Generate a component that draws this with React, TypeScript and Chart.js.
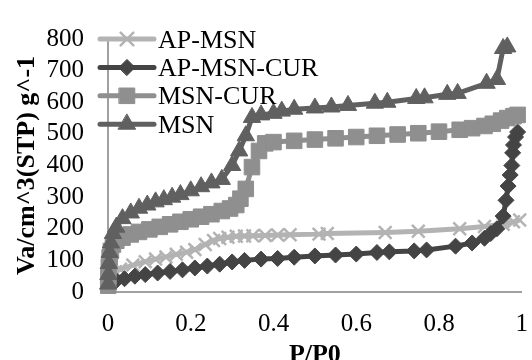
import React, { useEffect, useRef } from "react";
import { Chart, registerables } from "chart.js";
import { drawPoint } from "chart.js/helpers";

Chart.register(...registerables);

const seriesNames = ["AP-MSN", "AP-MSN-CUR", "MSN-CUR", "MSN"];

const apMsnP = [0.003, 0.008, 0.018, 0.03, 0.06, 0.09, 0.115, 0.14, 0.165, 0.19, 0.21, 0.235, 0.255, 0.27, 0.29, 0.31, 0.33, 0.35, 0.38, 0.41, 0.44, 0.51, 0.53, 0.67, 0.75, 0.85, 0.91, 0.955, 0.98, 0.995];
const apMsnV = [42, 56, 64, 72, 85, 96, 104, 111, 119, 126, 134, 150, 163, 169, 173, 176, 177, 178, 179, 180, 181, 183, 185, 188, 192, 200, 207, 214, 222, 228];

const apMsnCurP = [0.005, 0.02, 0.04, 0.065, 0.09, 0.12, 0.15, 0.18, 0.21, 0.24, 0.27, 0.3, 0.33, 0.37, 0.41, 0.45, 0.5, 0.55, 0.6, 0.65, 0.68, 0.74, 0.77, 0.84, 0.88, 0.91, 0.925, 0.94, 0.955, 0.962, 0.967, 0.972, 0.976, 0.978, 0.98, 0.985, 0.99];
const apMsnCurV = [28, 36, 42, 50, 55, 60, 65, 70, 76, 82, 88, 95, 100, 104, 106, 110, 114, 117, 120, 125, 127, 130, 133, 145, 155, 170, 185, 200, 240, 290, 335, 370, 400, 440, 465, 490, 506];

const msnCurP = [0.0005, 0.001, 0.002, 0.004, 0.007, 0.012, 0.02, 0.035, 0.055, 0.075, 0.1, 0.125, 0.15, 0.175, 0.2, 0.225, 0.25, 0.275, 0.295, 0.31, 0.32, 0.333, 0.348, 0.365, 0.38, 0.4, 0.45, 0.5, 0.55, 0.6, 0.65, 0.7, 0.75, 0.8, 0.85, 0.88, 0.91, 0.93, 0.95, 0.965, 0.98, 0.99];
const msnCurV = [20, 50, 80, 110, 130, 150, 162, 172, 182, 190, 198, 206, 214, 222, 230, 238, 246, 256, 264, 275, 295, 326, 395, 446, 470, 474, 478, 482, 486, 490, 494, 498, 502, 507, 513, 518, 525, 532, 542, 550, 556, 560];

const msnP = [0.0005, 0.001, 0.002, 0.004, 0.007, 0.012, 0.02, 0.035, 0.055, 0.075, 0.095, 0.115, 0.135, 0.155, 0.175, 0.2, 0.225, 0.25, 0.275, 0.3, 0.317, 0.333, 0.348, 0.37, 0.4, 0.42, 0.45, 0.5, 0.54, 0.58, 0.645, 0.675, 0.745, 0.765, 0.82, 0.845, 0.915, 0.94, 0.955, 0.965];
const msnV = [25, 55, 90, 125, 155, 185, 205, 232, 250, 265, 275, 285, 292, 300, 308, 320, 333, 345, 356, 400, 446, 494, 552, 560, 565, 572, 578, 582, 585, 590, 597, 600, 612, 614, 625, 628, 660, 672, 770, 775];

const yTickStep = 100;
const xTickStep = 0.2;

const seriesColors = ["#b3b3b3", "#444444", "#8f8f8f", "#606060"];
const seriesMarkers = ["crossRot", "rectRot", "rect", "triangle"];
const seriesMarkerSizes = [9, 8, 11, 10];

const FONT = "'Liberation Serif', 'Times New Roman', serif";

function toPoints(xs: number[], ys: number[]) {
  return xs.map((x, i) => ({ x, y: ys[i] }));
}

const legendPlugin = {
  id: "insideLegend",
  afterDatasetsDraw(chart: any) {
    const ctx = chart.ctx;
    const area = chart.chartArea;
    chart.data.datasets.forEach((ds: any, i: number) => {
      const y = area.top + i * 28.4;
      const x0 = area.left - 8;
      const x1 = area.left + 46;
      ctx.save();
      ctx.strokeStyle = ds.borderColor;
      ctx.lineWidth = ds.borderWidth;
      ctx.lineCap = "round";
      ctx.beginPath();
      ctx.moveTo(x0, y);
      ctx.lineTo(x1, y);
      ctx.stroke();
      ctx.fillStyle = ds.pointBackgroundColor;
      ctx.strokeStyle = ds.pointBorderColor;
      ctx.lineWidth = ds.pointBorderWidth;
      drawPoint(ctx, { pointStyle: ds.pointStyle, radius: ds.pointRadius, rotation: 0, borderWidth: ds.pointBorderWidth }, area.left + 19, y);
      ctx.fillStyle = "#000";
      ctx.font = "26px " + FONT;
      ctx.textBaseline = "alphabetic";
      ctx.textAlign = "left";
      ctx.fillText(ds.label, area.left + 50, y + 8.5);
      ctx.restore();
    });
  },
};

export default function App() {
  const ref = useRef<HTMLCanvasElement>(null);
  useEffect(() => {
    if (!ref.current) return;
    const series = [
      [apMsnP, apMsnV],
      [apMsnCurP, apMsnCurV],
      [msnCurP, msnCurV],
      [msnP, msnV],
    ];
    const datasets = series.map(([xs, ys], i) => ({
      label: seriesNames[i],
      data: toPoints(xs as number[], ys as number[]),
      showLine: true,
      borderColor: seriesColors[i],
      backgroundColor: seriesColors[i],
      borderWidth: 5,
      pointStyle: seriesMarkers[i],
      pointRadius: seriesMarkerSizes[i],
      pointBackgroundColor: seriesColors[i],
      pointBorderColor: seriesColors[i],
      pointBorderWidth: i === 0 ? 2.5 : 1,
      tension: 0,
      clip: false as any,
      order: 4 - i,
    }));
    const chart = new Chart(ref.current, {
      type: "scatter",
      data: { datasets },
      options: {
        responsive: false,
        animation: false,
        devicePixelRatio: 1,
        layout: { padding: { left: 7.4, top: 11, right: 12.8, bottom: 1.8 } },
        plugins: { legend: { display: false }, tooltip: { enabled: false } },
        scales: {
          x: {
            type: "linear",
            min: 0,
            max: 1,
            grid: { display: false, drawTicks: false },
            border: { display: true, color: "#a0a0a0", width: 2 },
            afterFit: (s: any) => { s.height = 86.2; },
            ticks: {
              stepSize: xTickStep,
              padding: 17,
              color: "#000",
              maxRotation: 0,
              autoSkip: false,
              font: { family: FONT, size: 25 },
              callback: (v: any) => String(Math.round(Number(v) * 10) / 10),
            },
            title: {
              display: true,
              text: "P/P0",
              color: "#000",
              padding: { top: 1, bottom: 7 },
              font: { family: FONT, size: 26, weight: "bold" },
            },
          },
          y: {
            type: "linear",
            min: 0,
            max: 800,
            grid: { display: false, drawTicks: false },
            border: { display: true, color: "#a0a0a0", width: 2 },
            afterFit: (s: any) => { s.width = 100.6; },
            ticks: {
              stepSize: yTickStep,
              padding: 24,
              autoSkip: false,
              color: "#000",
              font: { family: FONT, size: 25 },
            },
            title: {
              display: true,
              text: "Va/cm^3(STP) g^-1",
              color: "#000",
              font: { family: FONT, size: 26, weight: "bold" },
            },
          },
        },
      },
      plugins: [legendPlugin],
    });
    return () => chart.destroy();
  }, []);
  return (
    <div style={{ position: "fixed", left: 0, top: 0, width: 532, height: 360, overflow: "hidden", background: "#fff" }}>
      <canvas ref={ref} width={545} height={380} style={{ width: 545, height: 380, display: "block" }} />
    </div>
  );
}
